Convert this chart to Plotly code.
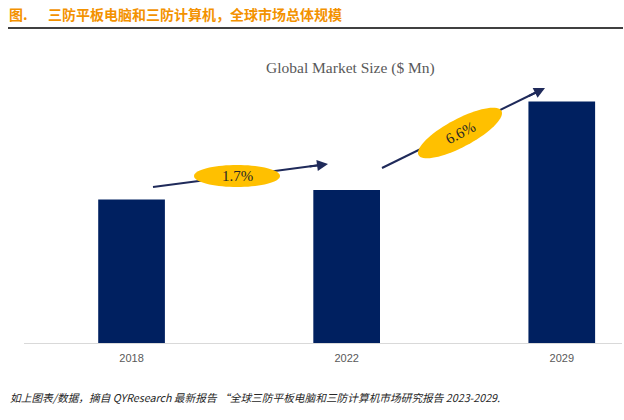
import math
import plotly.graph_objects as go

# ---- data ----
years = ["2018", "2022", "2029"]
market_size = [1435, 1530, 2415]   # $ Mn (relative)
cagr_labels = ["1.7%", "6.6%"]

# ---- layout constants (page pixels; body margin removed below) ----
W, H = 624, 420
PL, PR, PT, PB = 24, 622, 40, 343   # plot area in page pixels
ML, MT = PL, PT
MR = W - PR
MB = H - PB
PW = PR - PL
PH = PB - PT
XR = [-0.5, 2.28]
YR = [0, 3030]

def px2x(px):
    return XR[0] + (px - PL) / PW * (XR[1] - XR[0])

def py2y(py):
    return YR[0] + (PB - py) / PH * (YR[1] - YR[0])

def px2paper(px):
    return (px - PL) / PW

def py2paper(py):
    return (PB - py) / PH

fig = go.Figure()
fig.add_trace(go.Bar(
    x=years, y=market_size, width=0.31,
    marker=dict(color="#002060", line=dict(width=0)),
    hoverinfo="skip",
))

shapes = []
annotations = []

# header
hdr_font = dict(family="Noto Sans CJK SC", size=14, color="#F39200")
annotations.append(dict(text="<b>图.</b>", xref="paper", yref="paper",
                        x=px2paper(8), y=py2paper(14), xanchor="left", yanchor="middle",
                        showarrow=False, font=hdr_font, borderpad=0))
annotations.append(dict(text="<b>三防平板电脑和三防计算机，全球市场总体规模</b>", xref="paper", yref="paper",
                        x=px2paper(47), y=py2paper(14), xanchor="left", yanchor="middle",
                        showarrow=False, font=hdr_font, borderpad=0))
shapes.append(dict(type="line", xref="paper", yref="paper",
                   x0=px2paper(8), x1=px2paper(623), y0=py2paper(28), y1=py2paper(28),
                   line=dict(color="#000000", width=1.5)))

# chart title
annotations.append(dict(text="Global Market Size ($ Mn)", xref="paper", yref="paper",
                        x=px2paper(350), y=py2paper(68), xanchor="center", yanchor="middle",
                        showarrow=False, font=dict(family="Liberation Serif", size=15.5, color="#595959")))

# footer
annotations.append(dict(text="<i>如上图表/数据，摘自 QYResearch 最新报告 “全球三防平板电脑和三防计算机市场研究报告 2023-2029.</i>",
                        xref="paper", yref="paper",
                        x=px2paper(8), y=py2paper(397), xanchor="left", yanchor="middle",
                        showarrow=False, font=dict(family="Noto Sans CJK SC", size=10.7, color="#262626")))

# arrows (head, tail in page pixels): shaft as a shape (under the ellipse), head as a short annotation arrow
ARROW_COLOR = "#1F2A5A"
arrows = [((328, 164), (153, 187)), ((545, 88), (382, 168))]
for (hx, hy), (tx, ty) in arrows:
    L = math.hypot(hx - tx, hy - ty)
    ux, uy = (hx - tx) / L, (hy - ty) / L
    sx, sy = hx - ux * 8, hy - uy * 8
    shapes.append(dict(type="line", xref="x", yref="y",
                       x0=px2x(tx), y0=py2y(ty), x1=px2x(sx), y1=py2y(sy),
                       line=dict(color=ARROW_COLOR, width=2), layer="above"))
    annotations.append(dict(x=px2x(hx), y=py2y(hy), xref="x", yref="y",
                            ax=-ux * 20, ay=-uy * 20, axref="pixel", ayref="pixel",
                            showarrow=True, arrowhead=2, arrowsize=1.1, arrowwidth=2,
                            arrowcolor=ARROW_COLOR, text=""))

# ellipses (center px, semi-axes, angle deg)
ellipses = [((237, 176), 43, 11, 0), ((460, 133), 47, 14, 28)]
for i, ((cx, cy), a, b, ang) in enumerate(ellipses):
    th = math.radians(ang)
    pts = []
    for k in range(73):
        t = 2 * math.pi * k / 72
        ex = a * math.cos(t)
        ey = b * math.sin(t)
        px = cx + ex * math.cos(th) + ey * math.sin(th)
        py = cy - ex * math.sin(th) + ey * math.cos(th)
        pts.append((px2x(px), py2y(py)))
    path = "M " + " L ".join(f"{x:.5f},{y:.3f}" for x, y in pts) + " Z"
    shapes.append(dict(type="path", xref="x", yref="y", path=path,
                       fillcolor="#FFC000", line=dict(width=0), layer="above"))
    annotations.append(dict(text=cagr_labels[i], x=px2x(cx), y=py2y(cy), xref="x", yref="y",
                            showarrow=False, textangle=-ang,
                            font=dict(family="Liberation Serif", size=15, color="#262626")))

fig.update_layout(
    width=W, height=H,
    margin=dict(l=ML, r=MR, t=MT, b=MB, pad=0),
    paper_bgcolor="white", plot_bgcolor="white",
    showlegend=False,
    shapes=shapes, annotations=annotations,
    xaxis=dict(range=XR, showline=True, linecolor="#D9D9D9", linewidth=1,
               showgrid=False, zeroline=False, ticks="", ticklen=0,
               ticklabelstandoff=5,
               tickfont=dict(family="Liberation Sans", size=11, color="#595959"),
               fixedrange=True),
    yaxis=dict(range=YR, visible=False, showgrid=False, zeroline=False, fixedrange=True),
)

fig.write_html("out.html",
               config={"displayModeBar": False, "staticPlot": True},
               post_script="document.body.style.margin='0px';document.body.style.overflow='hidden';")
